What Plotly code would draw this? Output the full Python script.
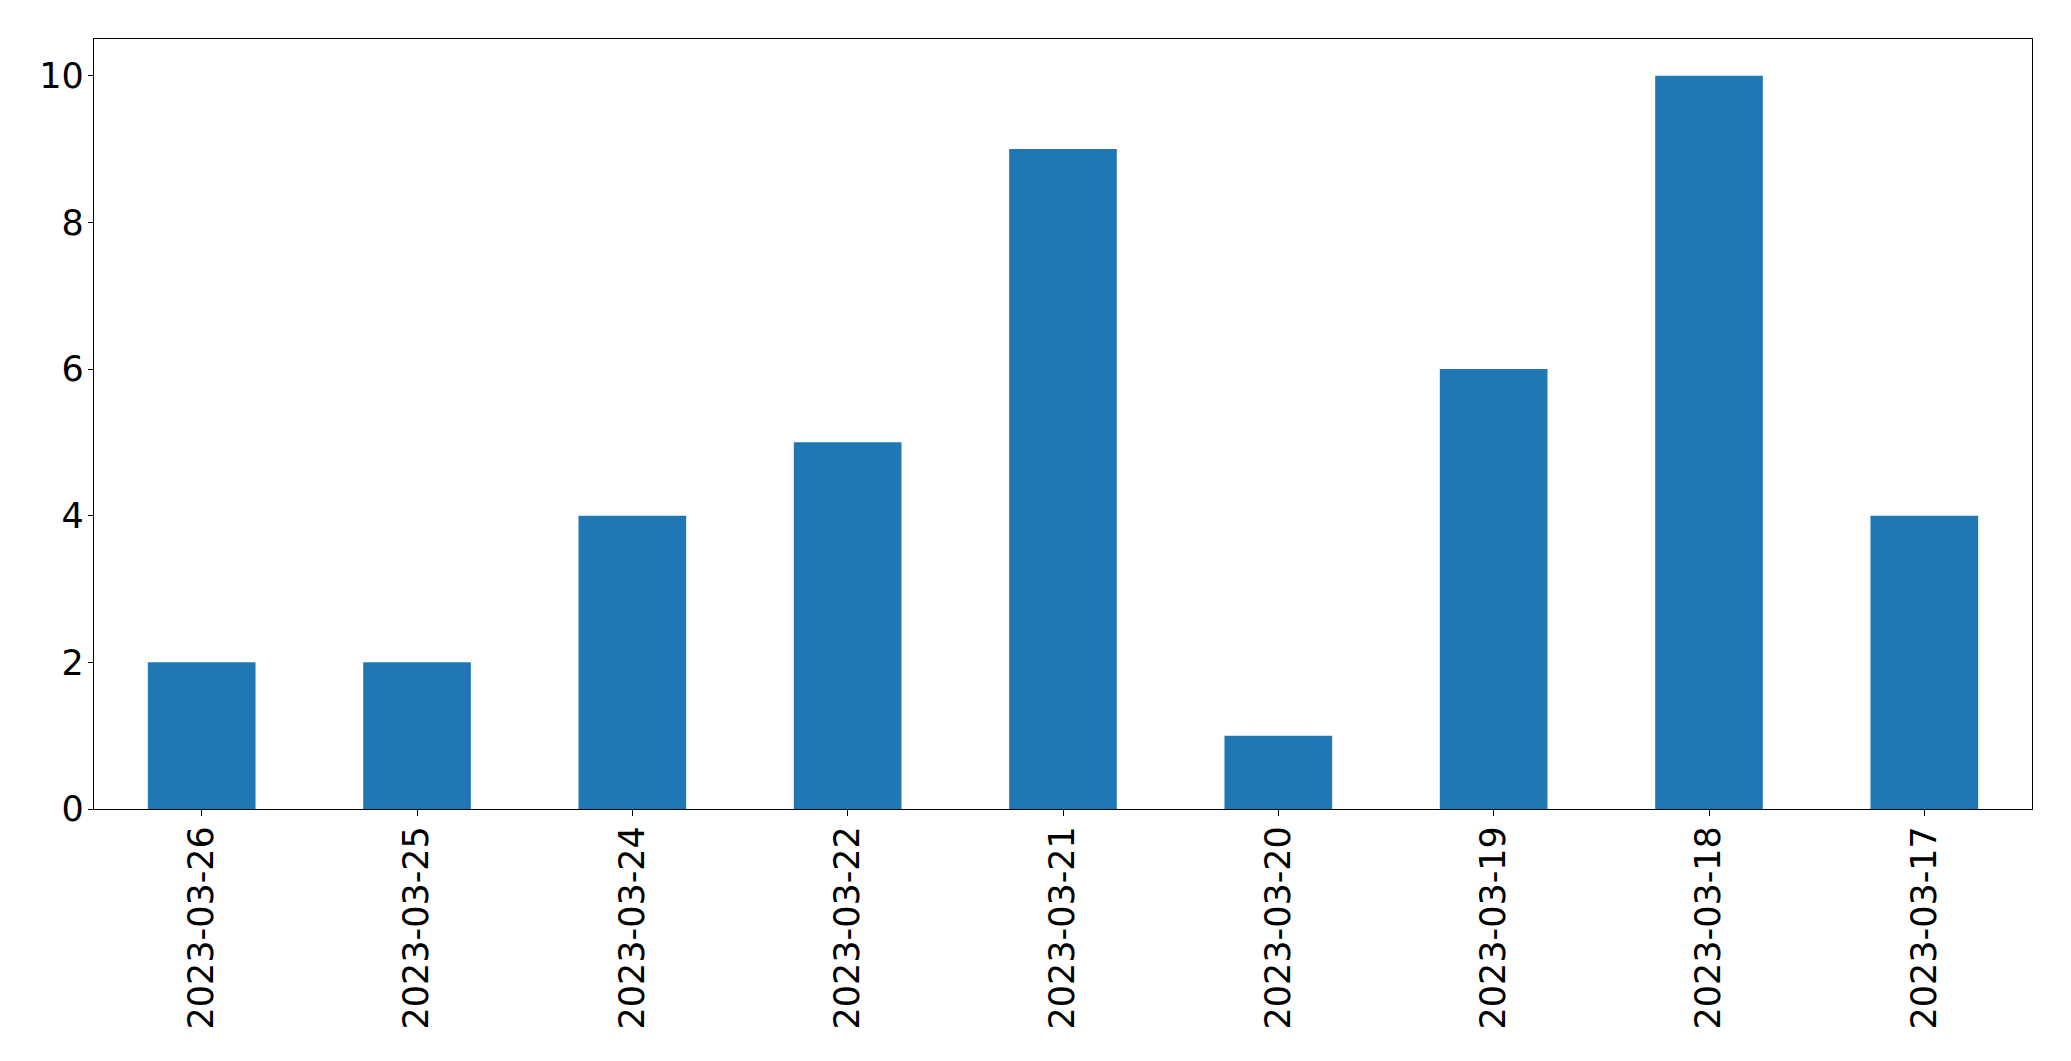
import plotly.graph_objects as go

dates = ["2023-03-26", "2023-03-25", "2023-03-24", "2023-03-22", "2023-03-21",
         "2023-03-20", "2023-03-19", "2023-03-18", "2023-03-17"]
counts = [2, 2, 4, 5, 9, 1, 6, 10, 4]
y_ticks = [0, 2, 4, 6, 8, 10]

fig = go.Figure(go.Bar(x=dates, y=counts, marker=dict(color="#1f77b4", line=dict(width=0))))

FS = 35
fig.update_layout(
    width=2063, height=1053,
    margin=dict(l=86, r=39, t=31, b=252, pad=0),
    paper_bgcolor="white", plot_bgcolor="white",
    bargap=0.5,
    showlegend=False,
    font=dict(family="DejaVu Sans", size=FS, color="black"),
)
fig.update_xaxes(
    type="category", range=[-0.5, 8.5],
    tickangle=-90, ticks="outside", ticklen=6, tickwidth=1.3, tickcolor="black",
    showline=True, linecolor="black", linewidth=1.3, mirror=True,
    showgrid=False, zeroline=False, ticklabelstandoff=-4,
    tickfont=dict(family="DejaVu Sans", size=FS, color="black"),
)
fig.update_yaxes(
    range=[0, 10.5], tickvals=y_ticks,
    ticks="outside", ticklen=5, tickwidth=1.3, tickcolor="black",
    showline=True, linecolor="black", linewidth=1.3, mirror=True,
    showgrid=False, zeroline=False, ticklabelstandoff=-3,
    tickfont=dict(family="DejaVu Sans", size=FS, color="black"),
)

fig.write_html("out.html")
